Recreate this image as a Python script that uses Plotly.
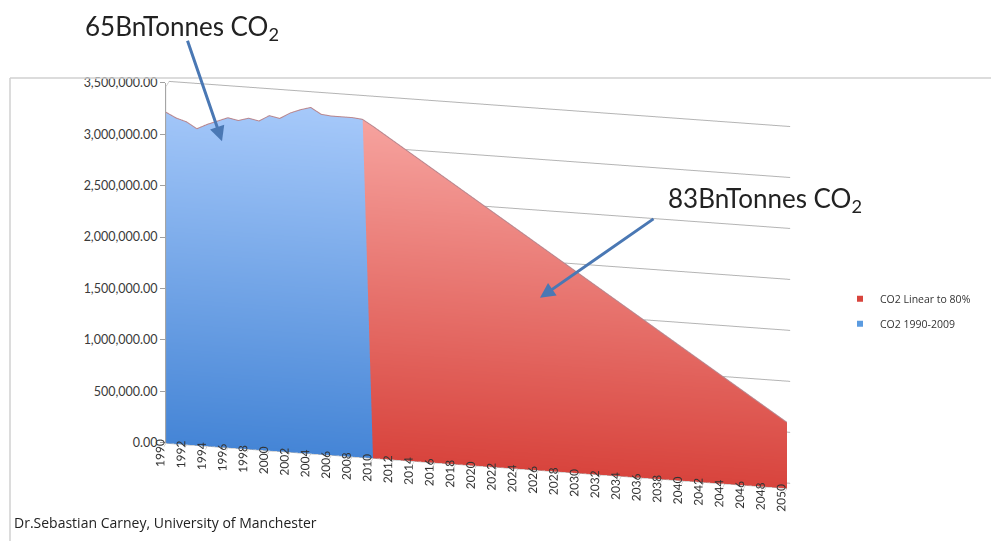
import math
import plotly.graph_objects as go

# Historic emissions (1990-2009), tonnes CO2
hist_years = list(range(1990, 2010))
hist_values = [3250000, 3200000, 3170000, 3110000, 3160000, 3200000, 3240000,
               3220000, 3250000, 3230000, 3290000, 3270000, 3330000, 3370000,
               3400000, 3340000, 3330000, 3330000, 3330000, 3320000]

# Linear reduction path to 80% below 1990 by 2050
path_years = [2010, 2050]
path_values = [3260000, 650000]

series_names = ["CO2 Linear to 80%", "CO2 1990-2009"]
year_ticks = list(range(1990, 2051, 2))
value_ticks = list(range(0, 3500001, 500000))

BLUE_LIGHT, BLUE_DARK = "#a9cbfb", "#4585d6"
RED_LIGHT, RED_DARK = "#f8a8a4", "#d8443d"
FACE_Y = 0.05  # depth position of the area face (front of the box)

FONT = "Lato, Open Sans, sans-serif"
W, H = 991, 548
# screen position of the left wall edge (value axis: 0 at bottom, 3.5M at top)
AXIS_X, AXIS_BOTTOM, AXIS_TOP = 165, 447, 77


def area_mesh(columns, light, dark, name):
    """Build a flat front-face area from (x, z_bottom, z_top) columns."""
    xs, zs, ii, jj, kk = [], [], [], [], []
    for x, zb, zt in columns:
        xs += [x, x]
        zs += [zb, zt]
    for c in range(len(columns) - 1):
        b0, t0, b1, t1 = 2 * c, 2 * c + 1, 2 * c + 2, 2 * c + 3
        ii += [b0, t0]
        jj += [t0, t1]
        kk += [b1, b1]
    return go.Mesh3d(
        x=xs, y=[FACE_Y] * len(xs), z=zs, i=ii, j=jj, k=kk,
        intensity=zs, cmin=0, cmax=3500000,
        colorscale=[[0, dark], [1, light]], showscale=False,
        flatshading=True,
        lighting=dict(ambient=1, diffuse=0, specular=0, roughness=1, fresnel=0),
        hoverinfo="skip", name=name,
    )


# stacked layout: history drops to zero in 2010, the path rises from the 2009 level
blue_cols = [(y, 0, v) for y, v in zip(hist_years, hist_values)] + [(path_years[0], 0, 0)]
red_cols = [(hist_years[-1], hist_values[-1], hist_values[-1])] + \
           [(y, 0, v) for y, v in zip(path_years, path_values)]

fig = go.Figure()
fig.add_trace(area_mesh(blue_cols, BLUE_LIGHT, BLUE_DARK, series_names[1]))
fig.add_trace(area_mesh(red_cols, RED_LIGHT, RED_DARK, series_names[0]))

# thin outline along the top of the stacked areas
fig.add_trace(go.Scatter3d(
    x=hist_years + path_years, y=[0] * (len(hist_years) + len(path_years)),
    z=hist_values + path_values, mode="lines",
    line=dict(color="#b9868e", width=2), hoverinfo="skip", showlegend=False))

# legend entries
for nm, col in zip(series_names, [RED_DARK, "#5b9be0"]):
    fig.add_trace(go.Scatter(x=[None], y=[None], mode="markers", name=nm,
                             legendgroup=nm,
                             marker=dict(symbol="square", size=6, color=col),
                             xaxis="x", yaxis="y"))

# orthographic camera: slightly above and to the right of the front
theta, phi, dist = math.radians(20), math.radians(12), 1.8
rho = dist * math.cos(theta)
eye = dict(x=rho * math.sin(phi), y=-rho * math.cos(phi), z=dist * math.sin(theta))

fig.update_layout(
    width=W, height=H,
    margin=dict(l=0, r=0, t=0, b=0),
    paper_bgcolor="white", plot_bgcolor="rgba(0,0,0,0)",
    hovermode=False,
    font=dict(family=FONT),
    # flat value axis carrying the horizontal tick labels beside the wall
    xaxis=dict(visible=False, range=[0, 1]),
    yaxis=dict(range=[0, 3500000], domain=[1 - AXIS_BOTTOM / H, 1 - AXIS_TOP / H],
               anchor="free", position=AXIS_X / W, side="left",
               tickvals=value_ticks, ticktext=[f"{v:,.2f}" for v in value_ticks],
               ticks="outside", ticklen=5, tickcolor="#a0a0a0",
               showline=True, linecolor="#a8a8a8", linewidth=1,
               showgrid=False, zeroline=False,
               tickfont=dict(family=FONT, size=12.5, color="#3a3a3a")),
    scene=dict(
        bgcolor="rgba(0,0,0,0)",
        domain=dict(x=[0.0, 0.965], y=[0.0, 0.96]),
        xaxis=dict(range=[1990, 2050], tickvals=year_ticks,
                   ticktext=[str(y) for y in year_ticks], tickangle=-90,
                   title=dict(text=""), showgrid=False,
                   showbackground=False, showline=True, linecolor="#b0b0b0",
                   ticks="outside", tickcolor="#b0b0b0",
                   tickfont=dict(family=FONT, size=12, color="#333333"),
                   zeroline=False, showspikes=False),
        yaxis=dict(range=[0, 1], showticklabels=False, title=dict(text=""),
                   showgrid=False, showbackground=True, backgroundcolor="white",
                   showline=False, zeroline=False, showspikes=False),
        zaxis=dict(range=[0, 3500000], tickvals=value_ticks,
                   showticklabels=False, title=dict(text=""), showgrid=True,
                   gridcolor="#b4b4b4", showbackground=False, showline=True,
                   linecolor="#a0a0a0", ticks="", zeroline=False,
                   showspikes=False),
        aspectmode="manual", aspectratio=dict(x=2.48, y=0.062, z=1.483),
        camera=dict(eye=eye, center=dict(x=0, y=0, z=0), up=dict(x=0, y=0, z=1),
                    projection=dict(type="orthographic")),
    ),
    legend=dict(x=840 / W, y=1 - 284 / H, yanchor="top", tracegroupgap=6,
                font=dict(family="Open Sans, sans-serif", size=10.5, color="#333333"),
                bgcolor="rgba(0,0,0,0)"),
    showlegend=True,
)

arrow_col = "#4a78b4"
title_font = dict(family=FONT, size=26, color="#222222")
fig.add_annotation(xref="paper", yref="paper", x=182 / W, y=1 - 20 / H,
                   xanchor="center", yanchor="middle",
                   text="65BnTonnes CO<sub>2</sub>", showarrow=False, font=title_font)
fig.add_annotation(xref="paper", yref="paper", x=765 / W, y=1 - 197 / H,
                   xanchor="center", yanchor="middle",
                   text="83BnTonnes CO<sub>2</sub>", showarrow=False, font=title_font)
fig.add_annotation(xref="paper", yref="paper", x=222 / W, y=1 - 137 / H,
                   ax=-35, ay=-102, text="", showarrow=True, arrowhead=2,
                   arrowsize=1, arrowwidth=3, arrowcolor=arrow_col)
fig.add_annotation(xref="paper", yref="paper", x=540 / W, y=1 - 298 / H,
                   ax=115, ay=-80, text="", showarrow=True, arrowhead=2,
                   arrowsize=1, arrowwidth=3, arrowcolor=arrow_col)
fig.add_annotation(xref="paper", yref="paper", x=12 / W, y=1 - 529 / H,
                   xanchor="left", yanchor="middle",
                   text="Dr.Sebastian Carney, University of Manchester",
                   showarrow=False,
                   font=dict(family="Open Sans, sans-serif", size=14, color="#222222"))

# chart frame
fig.add_shape(type="line", xref="paper", yref="paper", x0=10 / W, x1=1,
              y0=1 - 72 / H, y1=1 - 72 / H, line=dict(color="#d0d0d0", width=1.5))
fig.add_shape(type="line", xref="paper", yref="paper", x0=10 / W, x1=10 / W,
              y0=1 - 72 / H, y1=0, line=dict(color="#d0d0d0", width=1.5))

fig.write_html("out.html")
